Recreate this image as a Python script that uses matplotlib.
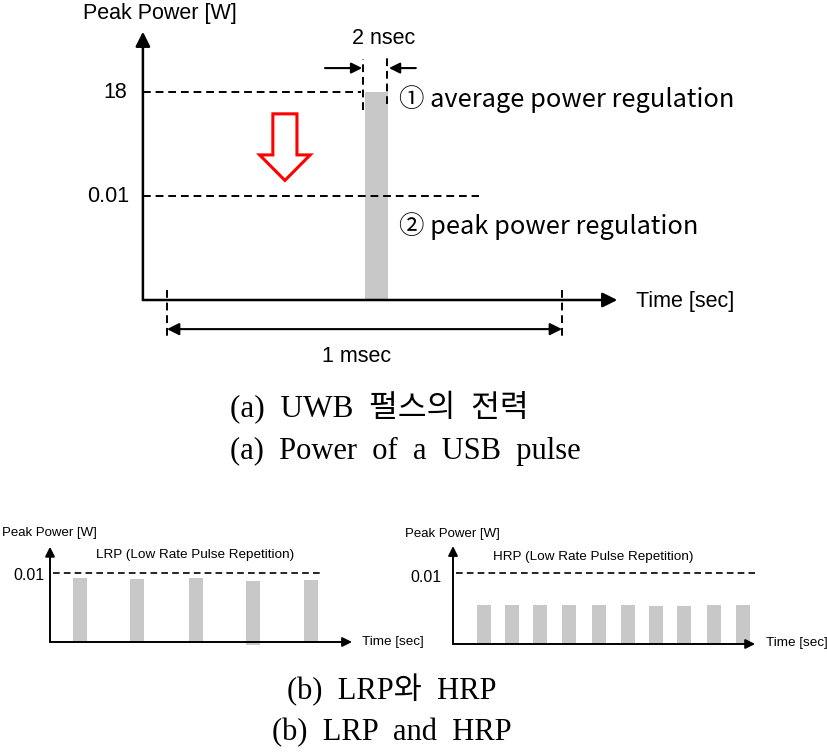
import matplotlib
matplotlib.use("Agg")
import matplotlib.pyplot as plt
import matplotlib.patches as mpatches

W, H = 827, 756

# ── Data (schematic units) ────────────────────────────────────────────
# (a) single UWB pulse: time in msec fraction, level index (1 = 0.01 W, 2 = 18 W)
level_labels = ["18", "0.01"]
level_pos = [2.0, 1.0]
level_line_end = [0.49, 0.79]
pulse_start = [0.5]
pulse_width = [0.06]
pulse_level = [2.0]

# (b) LRP pulses
lrp_centers = [0.52, 1.51, 2.53, 3.52, 4.52]
lrp_tops = [0.93, 0.91, 0.93, 0.88, 0.90]
lrp_bottoms = [0.0, 0.0, 0.0, -0.04, -0.015]
lrp_width = 0.25

# (b) HRP pulses
hrp_centers = [1.08, 2.05, 3.02, 4.03, 5.07, 6.08, 7.05, 8.02, 9.06, 10.07]
hrp_tops = [0.55, 0.55, 0.55, 0.55, 0.55, 0.55, 0.535, 0.535, 0.55, 0.55]
hrp_bottoms = [0.0] * 10
hrp_width = 0.5

BAR = "#c8c8c8"
SANS = ["Liberation Sans", "DejaVu Sans"]
KSANS = ["Noto Sans CJK KR", "DejaVu Sans"]
SERIF = ["Liberation Serif", "Noto Sans CJK KR"]
DASH = (0, (4, 2.5))

fig = plt.figure(figsize=(W / 100, H / 100), dpi=100)


def panel(x0, y0, xs, ys, box):
    """Axes over a pixel box, data origin at pixel (x0, y0)."""
    l, t, r, b = box
    ax = fig.add_axes([l / W, 1 - b / H, (r - l) / W, (b - t) / H])
    ax.set_xlim((l - x0) / xs, (r - x0) / xs)
    ax.set_ylim((y0 - b) / ys, (y0 - t) / ys)
    ax.axis("off")
    return ax


def ftext(x, y, s, size, family=SANS, ha="left", va="center"):
    fig.text(x / W, 1 - y / H, s, fontsize=size, family=family, ha=ha, va=va)


def arrow(ax, start, end, lw, ms, style="-|>"):
    ax.annotate("", xy=end, xytext=start,
                arrowprops=dict(arrowstyle=style, color="black", lw=lw,
                                mutation_scale=ms, shrinkA=0, shrinkB=0))


# ── (a) Power of a UWB pulse ──────────────────────────────────────────
ax = panel(167, 300, 395, 104, (0, 0, 827, 380))
yax_x = -0.061
arrow(ax, (yax_x, 0), (yax_x, 2.58), 1.8, 22)
arrow(ax, (yax_x, 0), (1.14, 0), 1.8, 22)
ax.bar(pulse_start, pulse_level, width=pulse_width, align="edge",
       color=BAR, zorder=1)
for pos, end in zip(level_pos, level_line_end):
    ax.plot([yax_x, end], [pos, pos], color="black", lw=1.4, ls=DASH)

# 2 nsec marker
p0, p1 = pulse_start[0], pulse_start[0] + pulse_width[0]
ax.plot([p0 - 0.004, p0 - 0.004], [1.83, 2.32], color="black", lw=1.4, ls=DASH)
ax.plot([p1 - 0.002, p1 - 0.002], [1.88, 2.37], color="black", lw=1.4, ls=DASH)
arrow(ax, (0.40, 2.23), (p0 - 0.006, 2.23), 1.5, 16)
arrow(ax, (0.63, 2.23), (p1 + 0.002, 2.23), 1.5, 16)

# 1 msec dimension
for t in (0.0, 1.0):
    ax.plot([t, t], [0.10, -0.36], color="black", lw=1.4, ls=DASH)
arrow(ax, (0.0, -0.28), (1.0, -0.28), 1.5, 18, style="<|-|>")

# red hollow arrow
ax.add_patch(mpatches.FancyArrow(0.2985, 1.79, 0, -0.64, width=0.061,
                                 head_width=0.128, head_length=0.245,
                                 length_includes_head=True, facecolor="white",
                                 edgecolor="#ff0000", lw=2.2))

ftext(83, 13, "Peak Power [W]", 15.5)
ftext(127, 93, level_labels[0], 15.5, ha="right")
ftext(129, 196, level_labels[1], 15.5, ha="right")
ftext(384, 38, "2 nsec", 15.5, ha="center")
ftext(636, 301, "Time [sec]", 15.5)
ftext(357, 357, "1 msec", 15.5, ha="center")
ftext(399, 99, "① average power regulation", 18.3, family=KSANS)
ftext(399, 226, "② peak power regulation", 18.3, family=KSANS)

ftext(379, 408, "(a)  UWB  펄스의  전력", 22.5, family=SERIF, ha="center")
ftext(405, 451, "(a)  Power  of  a  USB  pulse", 22, family=SERIF, ha="center")

# ── (b) LRP and HRP ───────────────────────────────────────────────────
def pulse_panel(ax, centers, tops, bottoms, width, xtip, dash_end):
    arrow(ax, (0, 0), (0, 1.38), 1.4, 14)
    arrow(ax, (0, 0), (xtip, 0), 1.4, 14)
    ax.bar(centers, [t - b for t, b in zip(tops, bottoms)], bottom=bottoms,
           width=width, color=BAR, zorder=0)
    ax.plot([0.05 * width / 0.25, dash_end], [1, 1], color="black", lw=1.2,
            ls=(0, (4, 2.5)))


axl = panel(50, 642, 57.75, 69, (0, 500, 420, 670))
pulse_panel(axl, lrp_centers, lrp_tops, lrp_bottoms, lrp_width, 5.23, 4.68)
axr = panel(453, 644, 28.8, 71, (410, 500, 827, 670))
pulse_panel(axr, hrp_centers, hrp_tops, hrp_bottoms, hrp_width, 10.49, 10.5)

ftext(2, 533, "Peak Power [W]", 9.5)
ftext(96, 555, "LRP (Low Rate Pulse Repetition)", 9.7)
ftext(44, 576, "0.01", 11.5, ha="right")
ftext(362, 642, "Time [sec]", 9.7)

ftext(405, 534, "Peak Power [W]", 9.5)
ftext(493, 557, "HRP (Low Rate Pulse Repetition)", 9.7)
ftext(441, 577, "0.01", 11.5, ha="right")
ftext(766, 643, "Time [sec]", 9.7)

ftext(392, 690, "(b)  LRP와  HRP", 22, family=SERIF, ha="center")
ftext(392, 733, "(b)  LRP  and  HRP", 22, family=SERIF, ha="center")

fig.savefig("out.png", dpi=100)
